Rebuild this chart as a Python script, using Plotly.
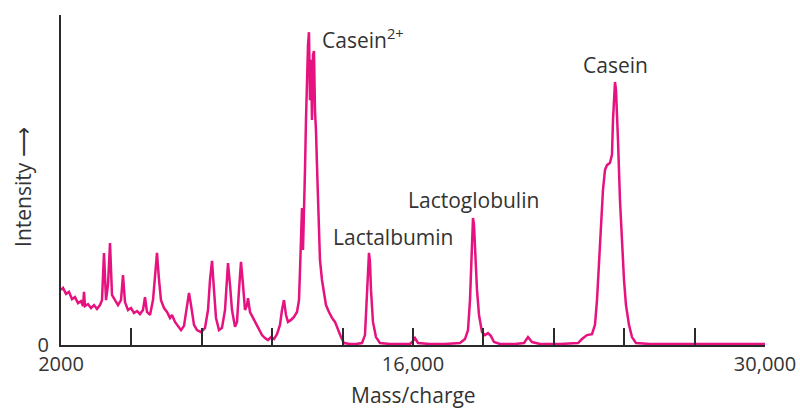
import plotly.graph_objects as go

# Traced spectrum (mass/charge, relative intensity 0-100)
mass = [2000, 2080, 2199, 2318, 2437, 2557, 2676, 2795, 2875, 2915, 2954, 3074, 3193, 3312, 3432, 3551,
        3631, 3710, 3790, 3869, 3949, 4028, 4148, 4267, 4386, 4466, 4545, 4665, 4784, 4903, 5023, 5142,
        5261, 5341, 5420, 5540, 5659, 5739, 5818, 5898, 5977, 6097, 6216, 6335, 6415, 6534, 6653, 6773,
        6892, 7011, 7091, 7170, 7290, 7409, 7568, 7727, 7847, 7926, 8006, 8085, 8165, 8284, 8403, 8523,
        8602, 8642, 8722, 8801, 8920, 9000, 9080, 9159, 9239, 9318, 9398, 9438, 9517, 9636, 9756, 9875,
        9994, 10113, 10233, 10352, 10471, 10591, 10710, 10790, 10869, 10949, 11028, 11148, 11267, 11386,
        11466, 11506, 11545, 11585, 11625, 11665, 11704, 11744, 11784, 11824, 11863, 11903, 11943, 11983,
        12022, 12062, 12102, 12141, 12181, 12221, 12260, 12300, 12380, 12459, 12539, 12658, 12778, 12897,
        13016, 13136, 13255, 13494, 13733, 13971, 14090, 14170, 14210, 14249, 14289, 14329, 14408, 14527,
        14687, 15085, 15482, 15880, 16000, 16079, 16198, 16675, 17272, 17869, 18068, 18187, 18267, 18307,
        18346, 18386, 18426, 18466, 18545, 18625, 18744, 18863, 18983, 19102, 19221, 19460, 20057, 20415,
        20574, 20733, 21051, 21846, 22562, 22721, 22920, 23119, 23238, 23318, 23397, 23477, 23556, 23636,
        23715, 23835, 23914, 23954, 23994, 24034, 24073, 24113, 24153, 24232, 24312, 24392, 24471, 24590,
        24710, 24869, 25426, 27414, 29005, 30000]
intensity = [16.7, 17.3, 15.5, 16.1, 13.9, 14.5, 12.7, 13.3, 11.8, 16.1, 11.8, 12.4, 11.2, 12.1, 10.9, 12.1,
             13.6, 27.9, 13.6, 18.2, 30.9, 15.2, 13.6, 12.1, 13.6, 21.2, 13.0, 10.6, 11.2, 9.7, 10.3, 9.4,
             10.6, 14.5, 10.0, 9.1, 13.6, 21.2, 27.9, 19.7, 13.6, 11.2, 10.0, 8.2, 9.1, 7.0, 5.8, 4.5,
             5.8, 12.1, 15.8, 12.1, 6.1, 4.5, 3.9, 5.2, 10.6, 19.7, 25.5, 16.7, 8.2, 4.5, 5.2, 10.6,
             19.7, 24.8, 18.2, 10.6, 5.5, 7.0, 16.7, 25.2, 18.2, 10.6, 12.1, 14.2, 10.0, 8.2, 6.1, 4.5,
             3.0, 2.1, 1.5, 2.4, 1.8, 3.3, 6.1, 10.6, 13.6, 9.1, 7.0, 7.6, 8.5, 10.0,
             13.6, 22.7, 31.8, 41.5, 28.8, 39.4, 53.0, 68.2, 80.3, 90.9, 94.8, 74.2, 86.4, 68.2,
             87.9, 89.1, 70.9, 65.2, 54.5, 43.9, 33.3, 25.8, 19.7, 15.2, 12.1, 10.0, 8.2, 7.0,
             4.5, 2.4, 0.6, 0.3, 0.3, 0.6, 3.0, 15.2, 24.2, 27.9, 25.2, 16.7, 7.0, 2.4,
             0.6, 0.3, 0.3, 0.3, 1.2, 2.1, 0.6, 0.3, 0.3, 0.6, 1.8, 4.5, 13.6, 22.7,
             31.8, 38.5, 36.4, 30.3, 16.7, 9.1, 3.9, 3.0, 3.6, 2.7, 0.9, 0.3, 0.3, 0.6,
             2.4, 0.9, 0.3, 0.3, 0.6, 1.8, 3.0, 3.3, 6.1, 13.6, 25.8, 37.9, 47.0, 53.0,
             54.5, 55.2, 57.6, 68.2, 75.8, 79.7, 77.3, 71.2, 62.1, 43.9, 30.3, 19.7, 12.1, 6.1,
             2.4, 0.6, 0.3, 0.3, 0.3, 0.3]

tick_vals = [2000, 4800, 7600, 10400, 13200, 16000, 18800, 21600, 24400, 27200, 30000]
tick_text = ["2000", "", "", "", "", "16,000", "", "", "", "", "30,000"]

peak_labels = ["Casein<sup>2+</sup>", "Lactalbumin", "Lactoglobulin", "Casein"]
peak_label_x = [12300, 15244, 18425, 24034]
peak_label_y = [93.0, 32.7, 43.9, 84.8]
peak_label_anchor = ["left", "center", "center", "center"]

FONT = "Open Sans"
TEXT = "#333333"
AXIS = "#2a2a2a"
PINK = "#e5127f"

fig = go.Figure()
fig.add_trace(go.Scatter(x=mass, y=intensity, mode="lines",
                         line=dict(color=PINK, width=2.5), hoverinfo="skip", showlegend=False))

for t, x, y, a in zip(peak_labels, peak_label_x, peak_label_y, peak_label_anchor):
    fig.add_annotation(x=x, y=y, text=t, showarrow=False, xanchor=a, yanchor="middle",
                       font=dict(family=FONT, size=21, color=TEXT))

fig.add_annotation(xref="paper", yref="paper", x=0.5, y=-0.1515, text="Mass/charge", showarrow=False,
                   xanchor="center", yanchor="middle", font=dict(family=FONT, size=21, color=TEXT))
fig.add_annotation(xref="paper", yref="paper", x=-0.054, y=0.479, text="Intensity ⟶", showarrow=False,
                   textangle=-90, xanchor="center", yanchor="middle",
                   font=dict(family=FONT, size=21, color=TEXT))

fig.update_layout(
    width=800, height=409,
    margin=dict(l=61, r=35, t=15, b=64, autoexpand=False),
    paper_bgcolor="white", plot_bgcolor="white",
    xaxis=dict(range=[2000, 30000], showgrid=False, zeroline=False, showline=True, automargin=False,
               linecolor=AXIS, linewidth=2, ticks="inside", ticklen=17, tickwidth=2,
               tickcolor=AXIS, tickvals=tick_vals, ticktext=tick_text,
               tickfont=dict(family=FONT, size=20, color=TEXT)),
    yaxis=dict(range=[0, 100], showgrid=False, zeroline=False, showline=True, automargin=False,
               linecolor=AXIS, linewidth=2, ticks="", tickvals=[0], ticktext=["0"],
               ticklabelstandoff=6, tickfont=dict(family=FONT, size=20, color=TEXT)),
)

fig.write_html("out.html", config={"displayModeBar": False},
               post_script="document.body.style.margin='0px';document.body.style.overflow='hidden';")
